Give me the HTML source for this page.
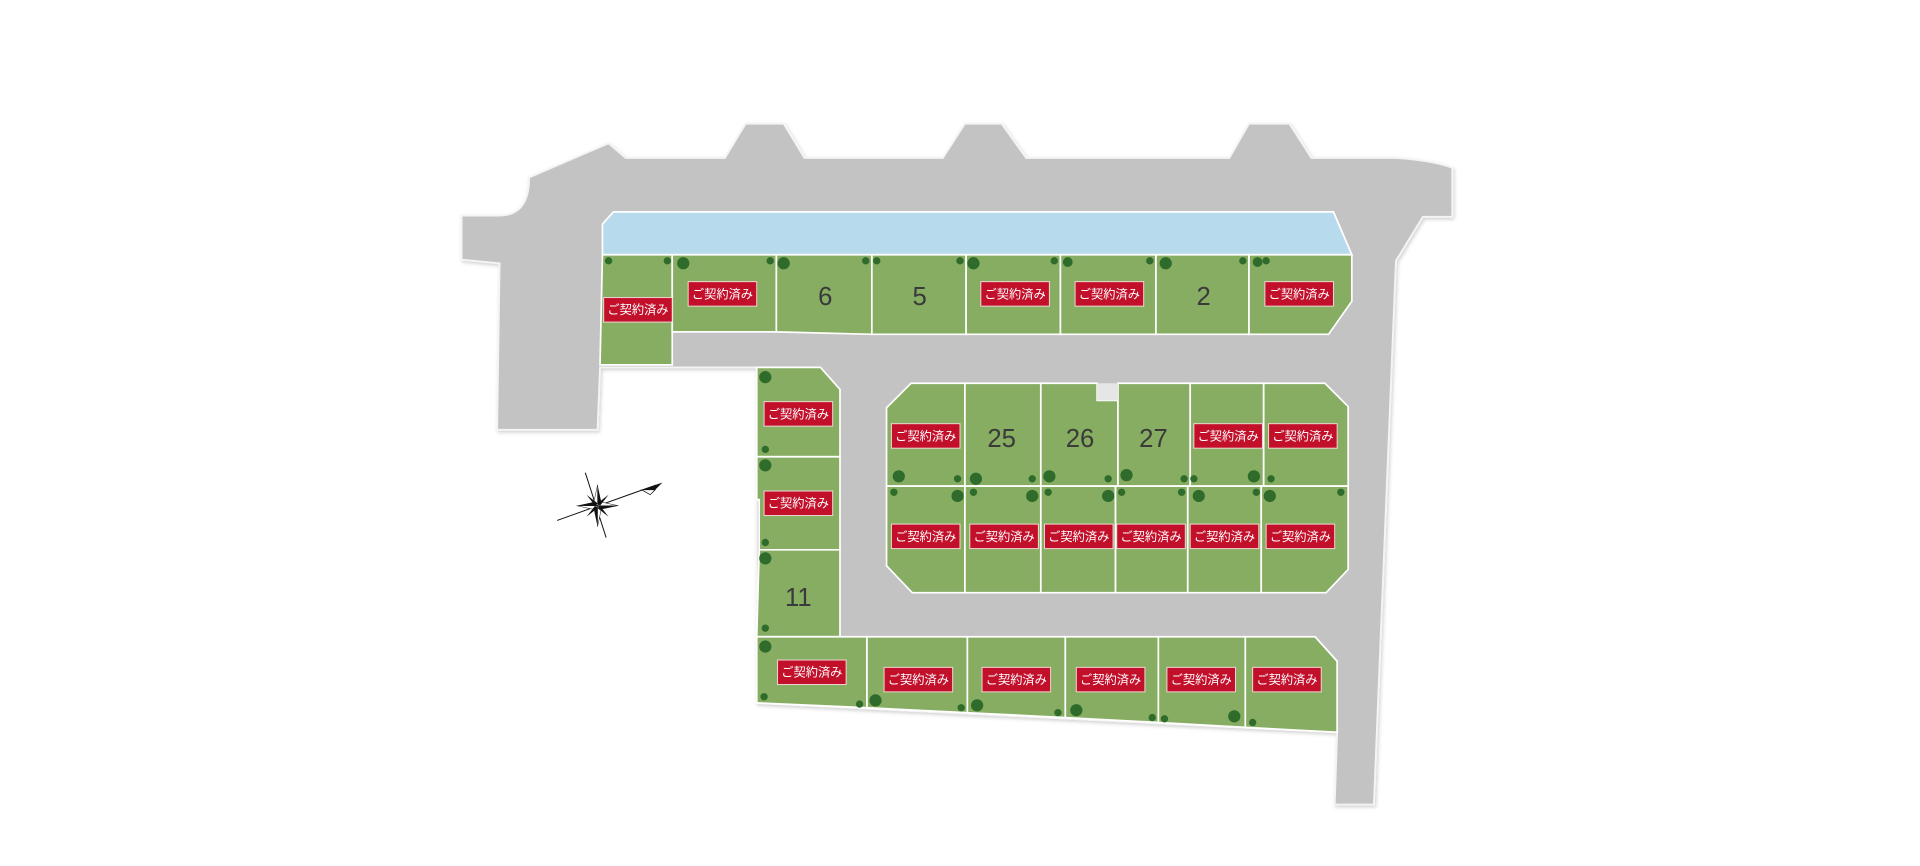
<!DOCTYPE html>
<html><head><meta charset="utf-8">
<style>
html,body{margin:0;padding:0;background:#fff;}
svg{display:block;}
.lot{fill:#86ad62;stroke:#fff;stroke-width:1.4;}
.num{fill:#3a3a3a;font-family:"Liberation Sans","Noto Sans CJK JP",sans-serif;font-size:21px;text-anchor:middle;}
.tr{fill:#2f6b2a;}
</style></head>
<body>
<svg width="1920" height="866" viewBox="0 0 1568 707.2" xmlns="http://www.w3.org/2000/svg">
<defs>
<filter id="sh" x="-5%" y="-5%" width="110%" height="110%"><feDropShadow dx="1" dy="1.5" stdDeviation="1.5" flood-color="#000" flood-opacity="0.18"/></filter>
</defs>
<path filter="url(#sh)" fill="#c3c3c3" stroke="#f4f4f4" stroke-width="1.5" d="M377,176 L408,176 Q430,176 432,150 L432,145 L497,117 L511,129 L592,129 L609,101 L640,101 L657,129 L770,129 L788,101 L818,101 L838,129 L1004,129 L1020,101 L1053,101 L1071,129 L1140,129 Q1170,131 1186,137 L1186,177 L1162,177 L1140,213 L1122,657 L1090,657 L1092,598 L618,574 L618,300 L490,300 L488,351 L406,351 L408,215 L377,212 Z"/>
<path fill="#b7dbec" stroke="#fff" stroke-width="1.4" d="M501,173 L1089,173 L1104,208 L492,208 L492,183 Z"/>
<path class="lot" d="M492,208 L549,208 L549,298 L490,298 Z"/>
<path class="lot" d="M549,208 L634,208 L634,271 L549,271 Z"/>
<path class="lot" d="M634,208 L712,208 L712,273 L634,271 Z"/>
<path class="lot" d="M712,208 L789,208 L789,273 L712,273 Z"/>
<path class="lot" d="M789,208 L866,208 L866,273 L789,273 Z"/>
<path class="lot" d="M866,208 L944,208 L944,273 L866,273 Z"/>
<path class="lot" d="M944,208 L1020,208 L1020,273 L944,273 Z"/>
<path class="lot" d="M1020,208 L1104,208 L1104,246 L1085,273 L1020,273 Z"/>
<path class="lot" d="M618,300 L670,300 L686,318 L686,373 L618,373 Z"/>
<path class="lot" d="M618,373 L686,373 L686,449 L620,449 L620,408 L618,408 Z"/>
<path class="lot" d="M620,449 L686,449 L686,520 L618,520 Z"/>
<path class="lot" d="M618,520 L708,520 L708,578 L618,574 Z"/>
<path class="lot" d="M708,520 L790,520 L790,582 L708,578 Z"/>
<path class="lot" d="M790,520 L870,520 L870,586 L790,582 Z"/>
<path class="lot" d="M870,520 L946,520 L946,590 L870,586 Z"/>
<path class="lot" d="M946,520 L1017,520 L1017,594 L946,590 Z"/>
<path class="lot" d="M1017,520 L1074,520 L1092,540 L1092,598 L1017,594 Z"/>
<path class="lot" d="M744,313 L788,313 L788,397 L724,397 L724,333 Z"/>
<path class="lot" d="M788,313 L850,313 L850,397 L788,397 Z"/>
<path class="lot" d="M850,313 L896,313 L896,327 L913,327 L913,397 L850,397 Z"/>
<path class="lot" d="M913,313 L972,313 L972,397 L913,397 Z"/>
<path class="lot" d="M972,313 L1032,313 L1032,397 L972,397 Z"/>
<path class="lot" d="M1032,313 L1082,313 L1101,332 L1101,397 L1032,397 Z"/>
<path class="lot" d="M724,397 L788,397 L788,484 L745,484 L724,462 Z"/>
<path class="lot" d="M788,397 L850,397 L850,484 L788,484 Z"/>
<path class="lot" d="M850,397 L911,397 L911,484 L850,484 Z"/>
<path class="lot" d="M911,397 L970,397 L970,484 L911,484 Z"/>
<path class="lot" d="M970,397 L1030,397 L1030,484 L970,484 Z"/>
<path class="lot" d="M1030,397 L1101,397 L1101,465 L1083,484 L1030,484 Z"/>
<rect x="896" y="313" width="17" height="14" fill="#e6e6e6"/>
<g class="tr">
<circle cx="497" cy="213" r="3"/><circle cx="545" cy="213" r="3"/><circle cx="558" cy="215" r="5"/><circle cx="629" cy="213" r="3"/><circle cx="640" cy="215" r="5"/><circle cx="707" cy="213" r="3"/><circle cx="716" cy="213" r="3"/><circle cx="784" cy="213" r="3"/><circle cx="795" cy="215" r="5"/><circle cx="861" cy="213" r="3"/><circle cx="872" cy="214" r="4"/><circle cx="939" cy="213" r="3"/><circle cx="952" cy="215" r="5"/><circle cx="1015" cy="213" r="3"/><circle cx="1027" cy="214" r="4"/><circle cx="1034" cy="213" r="3"/>
<circle cx="625" cy="308" r="5"/><circle cx="625" cy="367" r="3"/><circle cx="625" cy="380" r="5"/><circle cx="625" cy="443" r="3"/><circle cx="625" cy="456" r="5"/><circle cx="625" cy="513" r="3"/>
<circle cx="625" cy="528" r="5"/><circle cx="624" cy="569" r="3"/><circle cx="702" cy="575" r="3"/><circle cx="715" cy="572" r="5"/><circle cx="785" cy="578" r="3"/><circle cx="798" cy="576" r="5"/><circle cx="864" cy="582" r="3"/><circle cx="879" cy="580" r="5"/><circle cx="941" cy="586" r="3"/><circle cx="951" cy="587" r="3"/><circle cx="1008" cy="585" r="5"/><circle cx="1023" cy="590" r="3"/>
<circle cx="734" cy="389" r="5"/><circle cx="782" cy="391" r="3"/><circle cx="797" cy="391" r="5"/><circle cx="843" cy="391" r="3"/><circle cx="857" cy="389" r="5"/><circle cx="905" cy="391" r="3"/><circle cx="920" cy="388" r="5"/><circle cx="967" cy="391" r="3"/><circle cx="975" cy="391" r="3"/><circle cx="1024" cy="389" r="5"/><circle cx="1038" cy="391" r="3"/>
<circle cx="730" cy="402" r="3"/><circle cx="782" cy="405" r="5"/><circle cx="795" cy="402" r="3"/><circle cx="843" cy="405" r="5"/><circle cx="856" cy="402" r="3"/><circle cx="905" cy="405" r="5"/><circle cx="916" cy="402" r="3"/><circle cx="965" cy="402" r="3"/><circle cx="979" cy="405" r="5"/><circle cx="1026" cy="402" r="3"/><circle cx="1037" cy="405" r="5"/><circle cx="1095" cy="402" r="3"/>
</g>
<g font-family="Liberation Sans, Noto Sans CJK JP, sans-serif" font-size="10" text-anchor="middle" fill="#fff">
<g transform="translate(521,253)"><rect x="-28" y="-10" width="56" height="20" fill="#c2102b" stroke="#f3d6d6" stroke-width="0.8"/><text y="3.6">ご契約済み</text></g>
<g transform="translate(590,240)"><rect x="-28" y="-10" width="56" height="20" fill="#c2102b" stroke="#f3d6d6" stroke-width="0.8"/><text y="3.6">ご契約済み</text></g>
<g transform="translate(829,240)"><rect x="-28" y="-10" width="56" height="20" fill="#c2102b" stroke="#f3d6d6" stroke-width="0.8"/><text y="3.6">ご契約済み</text></g>
<g transform="translate(906,240)"><rect x="-28" y="-10" width="56" height="20" fill="#c2102b" stroke="#f3d6d6" stroke-width="0.8"/><text y="3.6">ご契約済み</text></g>
<g transform="translate(1061,240)"><rect x="-28" y="-10" width="56" height="20" fill="#c2102b" stroke="#f3d6d6" stroke-width="0.8"/><text y="3.6">ご契約済み</text></g>
<g transform="translate(652,338)"><rect x="-28" y="-10" width="56" height="20" fill="#c2102b" stroke="#f3d6d6" stroke-width="0.8"/><text y="3.6">ご契約済み</text></g>
<g transform="translate(652,411)"><rect x="-28" y="-10" width="56" height="20" fill="#c2102b" stroke="#f3d6d6" stroke-width="0.8"/><text y="3.6">ご契約済み</text></g>
<g transform="translate(663,549)"><rect x="-28" y="-10" width="56" height="20" fill="#c2102b" stroke="#f3d6d6" stroke-width="0.8"/><text y="3.6">ご契約済み</text></g>
<g transform="translate(750,555)"><rect x="-28" y="-10" width="56" height="20" fill="#c2102b" stroke="#f3d6d6" stroke-width="0.8"/><text y="3.6">ご契約済み</text></g>
<g transform="translate(830,555)"><rect x="-28" y="-10" width="56" height="20" fill="#c2102b" stroke="#f3d6d6" stroke-width="0.8"/><text y="3.6">ご契約済み</text></g>
<g transform="translate(907,555)"><rect x="-28" y="-10" width="56" height="20" fill="#c2102b" stroke="#f3d6d6" stroke-width="0.8"/><text y="3.6">ご契約済み</text></g>
<g transform="translate(981,555)"><rect x="-28" y="-10" width="56" height="20" fill="#c2102b" stroke="#f3d6d6" stroke-width="0.8"/><text y="3.6">ご契約済み</text></g>
<g transform="translate(1051,555)"><rect x="-28" y="-10" width="56" height="20" fill="#c2102b" stroke="#f3d6d6" stroke-width="0.8"/><text y="3.6">ご契約済み</text></g>
<g transform="translate(756,356)"><rect x="-28" y="-10" width="56" height="20" fill="#c2102b" stroke="#f3d6d6" stroke-width="0.8"/><text y="3.6">ご契約済み</text></g>
<g transform="translate(1003,356)"><rect x="-28" y="-10" width="56" height="20" fill="#c2102b" stroke="#f3d6d6" stroke-width="0.8"/><text y="3.6">ご契約済み</text></g>
<g transform="translate(1064,356)"><rect x="-28" y="-10" width="56" height="20" fill="#c2102b" stroke="#f3d6d6" stroke-width="0.8"/><text y="3.6">ご契約済み</text></g>
<g transform="translate(756,438)"><rect x="-28" y="-10" width="56" height="20" fill="#c2102b" stroke="#f3d6d6" stroke-width="0.8"/><text y="3.6">ご契約済み</text></g>
<g transform="translate(820,438)"><rect x="-28" y="-10" width="56" height="20" fill="#c2102b" stroke="#f3d6d6" stroke-width="0.8"/><text y="3.6">ご契約済み</text></g>
<g transform="translate(881,438)"><rect x="-28" y="-10" width="56" height="20" fill="#c2102b" stroke="#f3d6d6" stroke-width="0.8"/><text y="3.6">ご契約済み</text></g>
<g transform="translate(940,438)"><rect x="-28" y="-10" width="56" height="20" fill="#c2102b" stroke="#f3d6d6" stroke-width="0.8"/><text y="3.6">ご契約済み</text></g>
<g transform="translate(1000,438)"><rect x="-28" y="-10" width="56" height="20" fill="#c2102b" stroke="#f3d6d6" stroke-width="0.8"/><text y="3.6">ご契約済み</text></g>
<g transform="translate(1062,438)"><rect x="-28" y="-10" width="56" height="20" fill="#c2102b" stroke="#f3d6d6" stroke-width="0.8"/><text y="3.6">ご契約済み</text></g>
</g>
<text class="num" x="674" y="249">6</text>
<text class="num" x="751" y="249">5</text>
<text class="num" x="983" y="249">2</text>
<text class="num" x="818" y="365">25</text>
<text class="num" x="882" y="365">26</text>
<text class="num" x="942" y="365">27</text>
<text class="num" x="652" y="495">11</text>
<g transform="translate(488,413)">
<line x1="-33" y1="12" x2="48" y2="-17" stroke="#111" stroke-width="0.8"/>
<line x1="-10" y1="-27" x2="7" y2="26" stroke="#111" stroke-width="0.8"/>
<path d="M36,-13 L53,-19 L47,-13 Z" fill="#111"/>
<path d="M36,-13 L47,-13 L43,-9 Z" fill="#fff" stroke="#111" stroke-width="0.6"/>
<g fill="#111">
<path d="M0,-17 L3,-3 L0,0 Z"/><path d="M0,-17 L-3,-3 L0,0 Z" fill="#fff" stroke="#111" stroke-width="0.4"/>
<path d="M17,0 L3,3 L0,0 Z"/><path d="M17,0 L3,-3 L0,0 Z" fill="#fff" stroke="#111" stroke-width="0.4"/>
<path d="M0,17 L-3,3 L0,0 Z"/><path d="M0,17 L3,3 L0,0 Z" fill="#fff" stroke="#111" stroke-width="0.4"/>
<path d="M-17,0 L-3,-3 L0,0 Z"/><path d="M-17,0 L-3,3 L0,0 Z" fill="#fff" stroke="#111" stroke-width="0.4"/>
<path d="M9,-9 L2,0 L0,-2 Z"/><path d="M9,9 L0,2 L2,0 Z"/><path d="M-9,9 L-2,0 L0,2 Z"/><path d="M-9,-9 L0,-2 L-2,0 Z"/>
</g>
</g>
</svg>
</body></html>
